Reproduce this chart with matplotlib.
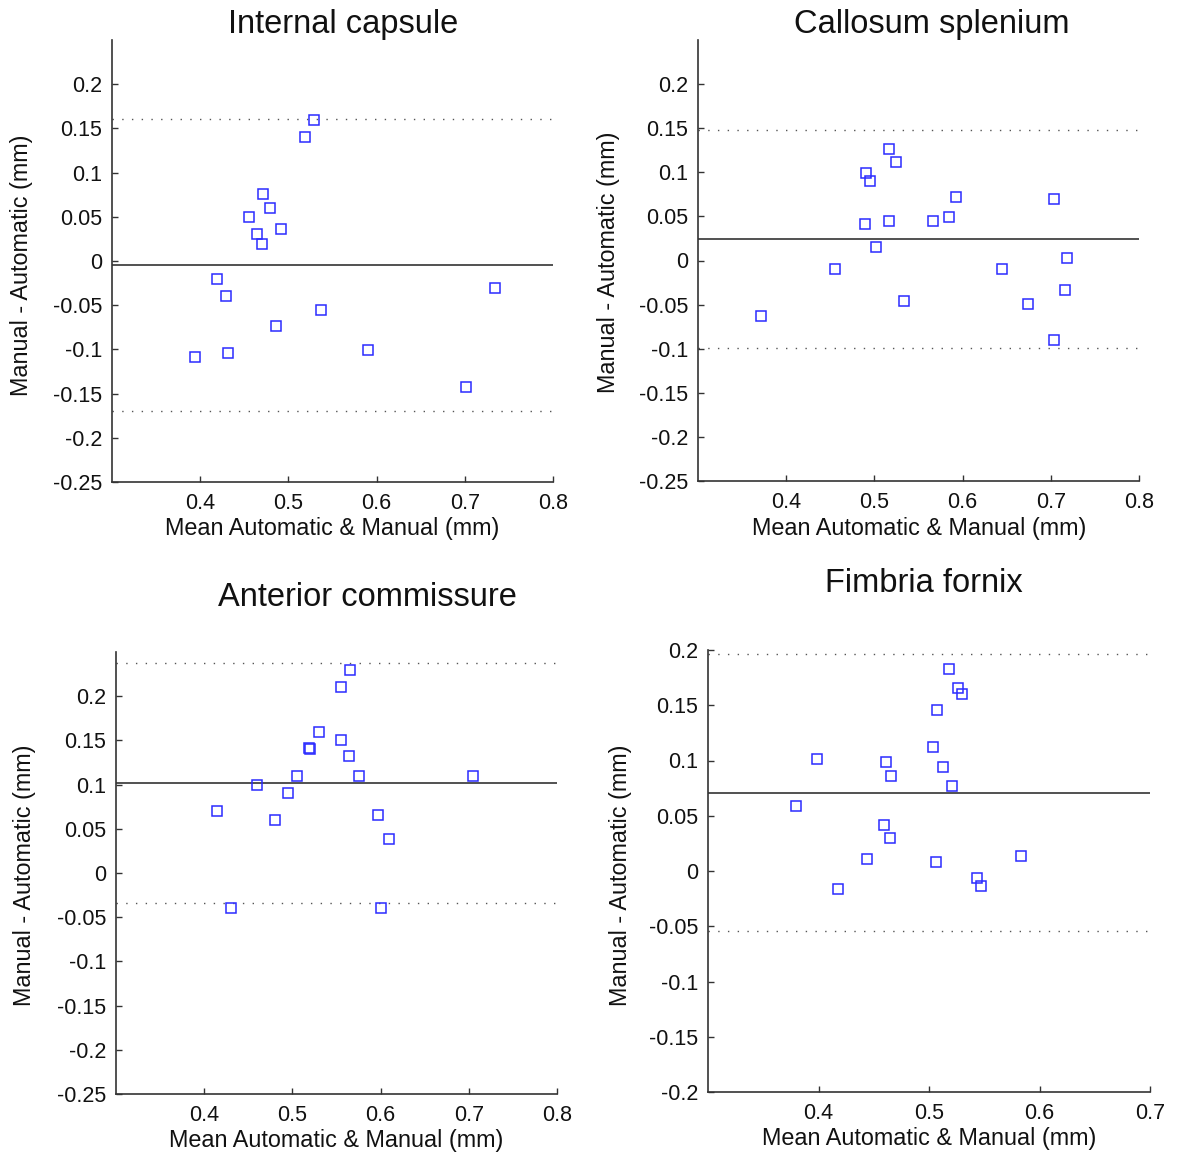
import matplotlib
matplotlib.use("Agg")
import matplotlib.pyplot as plt

plt.rcParams['font.family'] = ['Liberation Sans', 'DejaVu Sans']

# ---------------- data ----------------
titles = ["Internal capsule", "Callosum splenium", "Anterior commissure", "Fimbria fornix"]

ic_x = [0.529, 0.519, 0.471, 0.479, 0.455, 0.492, 0.464, 0.470, 0.419, 0.429,
        0.537, 0.486, 0.394, 0.432, 0.590, 0.701, 0.734]
ic_y = [0.160, 0.140, 0.076, 0.060, 0.050, 0.036, 0.030, 0.019, -0.020, -0.040,
        -0.055, -0.074, -0.109, -0.104, -0.101, -0.143, -0.030]
ic_lines = [-0.0045, 0.161, -0.170]   # mean, upper, lower limits

cs_x = [0.371, 0.455, 0.490, 0.495, 0.489, 0.502, 0.517, 0.524, 0.517, 0.533,
        0.567, 0.585, 0.593, 0.645, 0.674, 0.704, 0.704, 0.716, 0.718]
cs_y = [-0.063, -0.010, 0.099, 0.090, 0.041, 0.015, 0.126, 0.112, 0.045, -0.046,
        0.045, 0.049, 0.072, -0.010, -0.049, 0.070, -0.090, -0.033, 0.003]
cs_lines = [0.024, 0.148, -0.099]

ac_x = [0.565, 0.555, 0.530, 0.555, 0.519, 0.520, 0.564, 0.505, 0.575, 0.705,
        0.460, 0.495, 0.415, 0.480, 0.597, 0.610, 0.430, 0.600]
ac_y = [0.230, 0.210, 0.160, 0.150, 0.141, 0.140, 0.132, 0.110, 0.110, 0.110,
        0.100, 0.090, 0.070, 0.060, 0.066, 0.039, -0.040, -0.040]
ac_lines = [0.102, 0.238, -0.034]

ff_x = [0.518, 0.526, 0.530, 0.507, 0.504, 0.399, 0.461, 0.513, 0.466, 0.521,
        0.380, 0.459, 0.465, 0.444, 0.506, 0.583, 0.418, 0.543, 0.547]
ff_y = [0.183, 0.166, 0.160, 0.146, 0.112, 0.101, 0.099, 0.094, 0.086, 0.077,
        0.059, 0.042, 0.030, 0.011, 0.008, 0.014, -0.016, -0.006, -0.014]
ff_lines = [0.071, 0.196, -0.054]

xlabel = "Mean Automatic & Manual (mm)"
ylabel = "Manual - Automatic (mm)"

xticks_a = [0.4, 0.5, 0.6, 0.7, 0.8]
xticks_b = [0.4, 0.5, 0.6, 0.7]
yticks_a = [0.2, 0.15, 0.1, 0.05, 0, -0.05, -0.1, -0.15, -0.2, -0.25]
yticks_b = [0.2, 0.15, 0.1, 0.05, 0, -0.05, -0.1, -0.15, -0.2]

# ---------------- layout ----------------
W, H = 1177, 1157
fig = plt.figure(figsize=(W / 100, H / 100), dpi=100)

def rect(l, r, t, b):
    return [l / W, 1 - b / H, (r - l) / W, (b - t) / H]

panels = [
    dict(x=ic_x, y=ic_y, lines=ic_lines, rect=rect(112, 553, 40, 482),
         xlim=(0.3, 0.8), ylim=(-0.25, 0.25), xt=xticks_a, yt=yticks_a,
         title=(343, 25), xl=(332, 529), yl=(22, 265)),
    dict(x=cs_x, y=cs_y, lines=cs_lines, rect=rect(698, 1139, 40, 481),
         xlim=(0.3, 0.8), ylim=(-0.25, 0.25), xt=xticks_a, yt=yticks_a,
         title=(932, 25), xl=(919, 529), yl=(609, 262)),
    dict(x=ac_x, y=ac_y, lines=ac_lines, rect=rect(116, 557, 652, 1094),
         xlim=(0.3, 0.8), ylim=(-0.25, 0.25), xt=xticks_a, yt=yticks_a,
         title=(367, 597), xl=(336, 1141), yl=(25, 875)),
    dict(x=ff_x, y=ff_y, lines=ff_lines, rect=rect(708, 1150, 650, 1092),
         xlim=(0.3, 0.7), ylim=(-0.2, 0.2), xt=xticks_b, yt=yticks_b,
         title=(924, 583), xl=(929, 1139), yl=(620, 875)),
]

axis_col = "#333333"
for title, p in zip(titles, panels):
    ax = fig.add_axes(p["rect"])
    ax.set_xlim(*p["xlim"])
    ax.set_ylim(*p["ylim"])
    mean, up, lo = p["lines"]
    ax.axhline(mean, color="#333333", lw=1.2, zorder=1)
    ax.axhline(up, color="#555555", lw=1.0, ls=(0, (1, 6)), zorder=1)
    ax.axhline(lo, color="#555555", lw=1.0, ls=(0, (1, 6)), zorder=1)
    ax.plot(p["x"], p["y"], ls="none", marker="s", ms=6.8, mfc="none",
            mec="#2b2bff", mew=1.1, zorder=3)
    ax.set_xticks(p["xt"])
    ax.set_xticklabels([f"{v:g}" for v in p["xt"]])
    ax.set_yticks(p["yt"])
    ax.set_yticklabels([f"{v:g}" for v in p["yt"]])
    for s in ("top", "right"):
        ax.spines[s].set_visible(False)
    for s in ("left", "bottom"):
        ax.spines[s].set_color(axis_col)
        ax.spines[s].set_linewidth(1.2)
    ax.tick_params(direction="in", length=4, width=1, colors=axis_col,
                   labelcolor="#111111", labelsize=15.5)
    ax.tick_params(axis="x", pad=8)
    ax.tick_params(axis="y", pad=7)

    tx, ty = p["title"]
    fig.text(tx / W, 1 - ty / H, title, ha="center", va="center", fontsize=23.5, color="#111111")
    lx, ly = p["xl"]
    fig.text(lx / W, 1 - ly / H, xlabel, ha="center", va="center", fontsize=16.8, color="#111111")
    yx, yy = p["yl"]
    fig.text(yx / W, 1 - yy / H, ylabel, ha="center", va="center", rotation=90,
             fontsize=16.8, color="#111111")

fig.savefig("out.png", dpi=100)
